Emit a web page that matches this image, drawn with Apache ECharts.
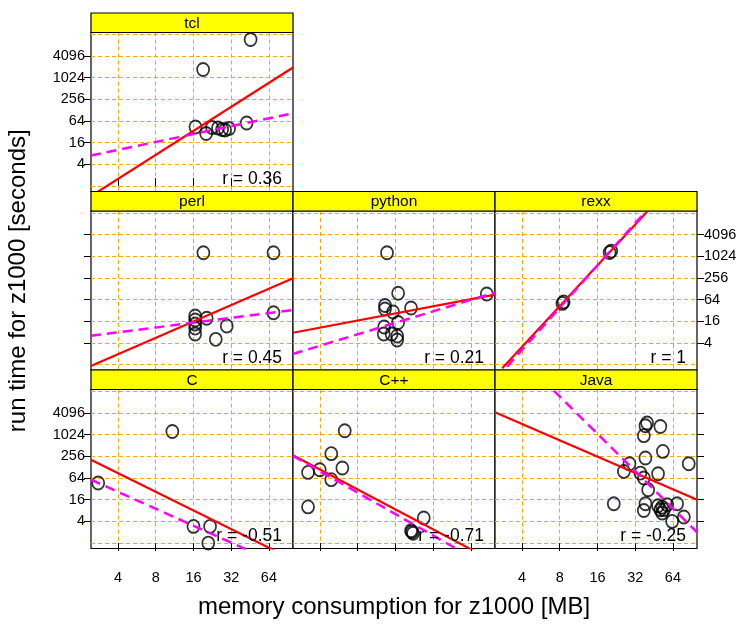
<!DOCTYPE html>
<html><head><meta charset="utf-8">
<script src="https://cdn.jsdelivr.net/npm/echarts@6/dist/echarts.min.js"></script>
<style>html,body{margin:0;padding:0;background:#fff}#c{width:750px;height:627px}</style>
</head><body><div id="c"></div>
<script>
// ---- data (memory in MB, run time in seconds) ----
const panelNames = ['tcl', 'perl', 'python', 'rexx', 'C', 'C++', 'Java'];
const rLabels = ['r = 0.36', 'r = 0.45', 'r = 0.21', 'r = 1', 'r = -0.51', 'r = -0.71', 'r = -0.25'];
const xTickValues = [4, 8, 16, 32, 64];
const yTickValues = [4, 16, 64, 256, 1024, 4096];
const yGridValues = [1, 4, 16, 64, 256, 1024, 4096, 16384];
const xLimits = [2.435, 99.6];
const yLimits = [0.7071, 18430];

const memTcl = [45.7, 19.1, 16.6, 20.2, 22.5, 25.1, 27.1, 28.6, 30.8, 42.5];
const timeTcl = [11760, 1728, 43.7, 28.8, 42.3, 41, 37.3, 36, 39.7, 56.5];
const memPerl = [19.2, 69.6, 69.6, 16.5, 16.5, 16.5, 16.5, 16.5, 20.4, 29.5, 24.1];
const timePerl = [1280, 1280, 27.6, 22.3, 17.3, 13.4, 10.3, 7.05, 19.3, 11.8, 5.03];
const memPython = [13.7, 16.8, 13.2, 13.2, 15.3, 21.3, 16.8, 13.0, 12.9, 14.9, 16.5, 16.5, 85.6];
const timePython = [1280, 95.8, 43.7, 35, 28.8, 37.3, 14.7, 11.1, 7.05, 7.05, 6.2, 4.8, 91.3];
const memRexx = [8.4, 8.6, 20.0, 20.6];
const timeRexx = [50, 55, 1300, 1420];
const memC = [2.78, 10.85, 16.0, 21.7, 21.0];
const timeC = [46.5, 1260, 2.9, 2.9, 1.0];
const memCpp = [3.21, 3.98, 4.92, 6.03, 4.92, 6.3, 3.21, 26.9, 21.7, 22.1, 21.3];
const timeCpp = [91.8, 109, 304, 122, 57.7, 1320, 10.1, 4.96, 2.07, 1.88, 2.2];
const memJava = [39.8, 38.6, 50.8, 37.5, 53.2, 38.6, 85.6, 28.8, 26.0, 35.2, 37.5, 48.7, 40.6, 21.6, 38.6, 37.5, 52.5, 50.8, 52.5, 57.5, 69.1, 63.1, 78.2, 48.7, 54.4];
const timeJava = [2170, 1820, 1735, 962, 352, 231, 160, 160, 97.7, 88, 64, 84.4, 30.3, 12.4, 12.4, 8.06, 10.0, 8.46, 6.83, 11.6, 12.4, 4.0, 5.3, 10.9, 8.5];

// fitted lines: two end points [mem, time] each (solid = least squares, dashed = second fit)
const fitSolidTcl = [[2.43, 0.525], [99.7, 1965]];
const fitDashTcl = [[2.43, 7.06], [99.7, 105.4]];
const fitSolidPerl = [[2.43, 0.914], [99.7, 249]];
const fitDashPerl = [[2.43, 6.32], [99.7, 32.9]];
const fitSolidPython = [[2.43, 7.67], [99.7, 87.4]];
const fitDashPython = [[2.43, 1.97], [99.7, 100.4]];
const fitSolidRexx = [[2.78, 0.79], [39.8, 17560]];
const fitDashRexx = [[3.04, 0.877], [38.6, 17560]];
const fitSolidC = [[2.43, 206], [99.7, 0.346]];
const fitDashC = [[2.43, 57.7], [99.7, 0.174]];
const fitSolidCpp = [[2.43, 274], [99.7, 0.297]];
const fitDashCpp = [[2.43, 265], [99.7, 0.171]];
const fitSolidJava = [[2.43, 4330], [99.7, 16]];
const fitDashJava = [[7.2, 16900], [99.7, 2.0]];

const memAll = [memTcl, memPerl, memPython, memRexx, memC, memCpp, memJava];
const timeAll = [timeTcl, timePerl, timePython, timeRexx, timeC, timeCpp, timeJava];
const solidAll = [fitSolidTcl, fitSolidPerl, fitSolidPython, fitSolidRexx, fitSolidC, fitSolidCpp, fitSolidJava];
const dashAll = [fitDashTcl, fitDashPerl, fitDashPython, fitDashRexx, fitDashC, fitDashCpp, fitDashJava];

// ---- layout ----
const FONT = 'Liberation Sans, Arial, Helvetica, sans-serif';
const colLeft = [91, 293, 495];
const colW = 202;
const rowTop = [13, 191.5, 370];
const stripH = 19.5;
const plotH = 159;
const panelRC = [[0, 0], [1, 0], [1, 1], [1, 2], [2, 0], [2, 1], [2, 2]];
// axis decorations: 'labels' | 'ticks' | null
const leftAx = ['labels', 'ticks', null, null, 'labels', null, null];
const rightAx = [null, null, null, 'labels', null, null, 'ticks'];
const bottomAx = [null, null, null, null, 'labels', 'ticks', 'labels'];
const topAx = ['ticks', null, null, null, null, null, null];

const L2 = Math.log2;
const grids = [], xAxes = [], yAxes = [], series = [], graphics = [];
const gridLine = { show: true, lineStyle: { color: '#FFA500', width: 1, type: [4, 3] } };
const fmt = v => String(Math.round(Math.pow(2, v)));

panelNames.forEach((name, i) => {
  const [r, c] = panelRC[i];
  const left = colLeft[c], top = rowTop[r] + stripH;
  grids.push({ left: left, top: top, width: colW, height: plotH, show: true,
    borderColor: '#000', borderWidth: 1.2, backgroundColor: '#fff',
    containLabel: false, outerBoundsMode: 'none' });

  const xPos = topAx[i] ? 'top' : 'bottom';
  const xDeco = topAx[i] || bottomAx[i];
  xAxes.push({ type: 'value', gridIndex: i, min: L2(xLimits[0]), max: L2(xLimits[1]),
    position: xPos, offset: topAx[i] ? stripH : 0,
    axisLine: { show: false },
    axisTick: { show: !!xDeco, length: 8, customValues: xTickValues.map(L2), lineStyle: { color: '#000', width: 1 } },
    axisLabel: { show: xDeco === 'labels', customValues: xTickValues.map(L2), formatter: fmt,
      margin: 22, color: '#000', fontSize: 14.5, fontFamily: FONT },
    splitLine: gridLine });

  // grid-line axis
  yAxes.push({ type: 'value', gridIndex: i, min: L2(yLimits[0]), max: L2(yLimits[1]), position: 'left',
    axisLine: { show: false }, axisTick: { show: false, customValues: yGridValues.map(L2) },
    axisLabel: { show: false, customValues: yGridValues.map(L2) }, splitLine: gridLine });
  // tick axis
  const yDeco = leftAx[i] || rightAx[i];
  yAxes.push({ type: 'value', gridIndex: i, min: L2(yLimits[0]), max: L2(yLimits[1]),
    position: rightAx[i] ? 'right' : 'left',
    axisLine: { show: false },
    axisTick: { show: !!yDeco, length: 7, customValues: yTickValues.map(L2), lineStyle: { color: '#000', width: 1 } },
    axisLabel: { show: yDeco === 'labels', customValues: yTickValues.map(L2), formatter: fmt,
      margin: rightAx[i] ? 7 : 6, color: '#000', fontSize: 14.5, fontFamily: FONT },
    splitLine: { show: false } });

  series.push({ type: 'scatter', xAxisIndex: i, yAxisIndex: 2 * i,
    data: memAll[i].map((m, k) => [L2(m), L2(timeAll[i][k])]),
    symbol: 'path://M50,0 A50,50 0 1,1 50,100 A50,50 0 1,1 50,0 Z', symbolSize: [12, 13],
    itemStyle: { color: 'transparent', borderColor: '#000', borderWidth: 1.8 },
    silent: true, z: 3 });
  series.push({ type: 'line', xAxisIndex: i, yAxisIndex: 2 * i, clip: true, showSymbol: false, symbol: 'none',
    data: solidAll[i].map(p => [L2(p[0]), L2(p[1])]),
    lineStyle: { color: '#FF0000', width: 2.2, type: 'solid' }, silent: true, z: 4 });
  series.push({ type: 'line', xAxisIndex: i, yAxisIndex: 2 * i, clip: true, showSymbol: false, symbol: 'none',
    data: dashAll[i].map(p => [L2(p[0]), L2(p[1])]),
    lineStyle: { color: '#FF00FF', width: 2.5, type: [10, 6] }, silent: true, z: 4 });

  // strip
  graphics.push({ type: 'rect', shape: { x: left, y: rowTop[r], width: colW, height: stripH },
    style: { fill: '#FFFF00', stroke: '#000', lineWidth: 1.2 }, z: 10 });
  graphics.push({ type: 'text', x: left + colW / 2, y: rowTop[r] + stripH / 2 + 0.5,
    style: { text: name, fill: '#000', font: '15.5px ' + FONT, textAlign: 'center', textVerticalAlign: 'middle', verticalAlign: 'middle' }, z: 11 });
  // r label
  graphics.push({ type: 'text', x: left + colW - 11, y: top + plotH - 12,
    style: { text: rLabels[i], fill: '#000', font: '17.5px ' + FONT, textAlign: 'right', textVerticalAlign: 'middle', verticalAlign: 'middle' }, z: 11 });
});

// axis titles
graphics.push({ type: 'text', x: (colLeft[0] + colLeft[2] + colW) / 2, y: 607,
  style: { text: 'memory consumption for z1000 [MB]', fill: '#000', font: '24px ' + FONT, textAlign: 'center', textVerticalAlign: 'middle', verticalAlign: 'middle' } });
graphics.push({ type: 'text', x: 18, y: (rowTop[0] + rowTop[2] + stripH + plotH) / 2, rotation: Math.PI / 2,
  style: { text: 'run time for z1000 [seconds]', fill: '#000', font: '24px ' + FONT, textAlign: 'center', textVerticalAlign: 'middle', verticalAlign: 'middle' } });

const chart = echarts.init(document.getElementById('c'), null, { renderer: 'canvas' });
chart.setOption({
  animation: false,
  backgroundColor: '#fff',
  textStyle: { fontFamily: FONT },
  grid: grids, xAxis: xAxes, yAxis: yAxes, series: series, graphic: graphics
});
</script></body></html>
